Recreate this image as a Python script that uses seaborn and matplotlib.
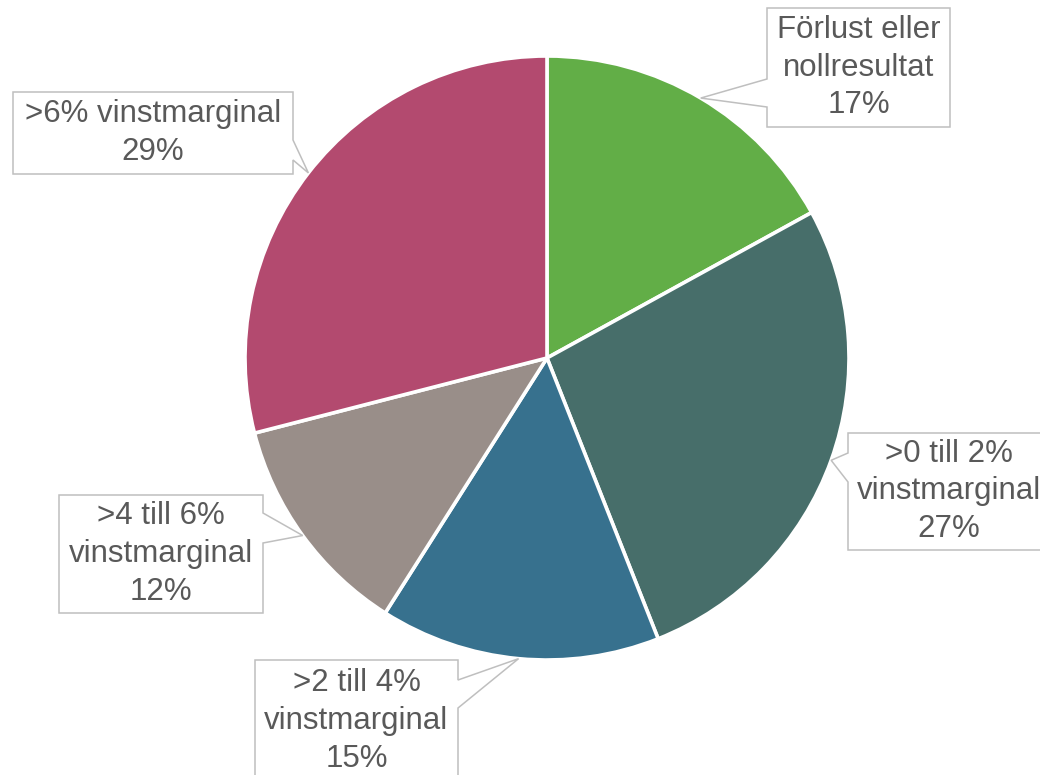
import numpy as np
import matplotlib
matplotlib.use("Agg")
import matplotlib.pyplot as plt
from matplotlib.patches import Polygon
import seaborn as sns

# ------------------------------------------------------------------------------
# DATA
# ------------------------------------------------------------------------------
categories = ["Förlust eller\nnollresultat", ">0 till 2%\nvinstmarginal",
              ">2 till 4%\nvinstmarginal", ">4 till 6%\nvinstmarginal",
              ">6% vinstmarginal"]
shares = [17, 27, 15, 12, 29]
colors = ["#62AE47", "#476E6A", "#37718E", "#998E89", "#B34A6F"]

# callout boxes in figure pixels (x0, y0, x1, y1), side of pointer, pointer base
callouts = [
    dict(box=(767, 8, 950, 127), side="left", base=(79, 107)),
    dict(box=(848, 433, 1050, 550), side="left", base=(453, 482)),
    dict(box=(255, 660, 458, 782), side="right", base=(680, 708)),
    dict(box=(59, 495, 263, 613), side="right", base=(513, 543)),
    dict(box=(13, 92, 293, 174), side="right", base=(140, 160)),
]

# ------------------------------------------------------------------------------
# STYLE
# ------------------------------------------------------------------------------
sns.set_theme(style="white")
plt.rcParams["font.family"] = ["Liberation Sans", "DejaVu Sans"]
W, H = 1040, 775
fig = plt.figure(figsize=(W / 100, H / 100), dpi=100)

# pie axes: center (547, 358), radius 302 px
cx, cy, r = 547, 358, 302
ax = fig.add_axes([(cx - r) / W, (H - cy - r) / H, 2 * r / W, 2 * r / H])
wedges, _ = ax.pie(shares, colors=sns.color_palette(colors), startangle=90,
                   counterclock=False, radius=1,
                   wedgeprops=dict(edgecolor="white", linewidth=2.6))
ax.set_xlim(-1, 1)
ax.set_ylim(-1, 1)
ax.set_aspect("equal")
ax.axis("off")

# overlay in pixel coordinates for the callouts
ov = fig.add_axes([0, 0, 1, 1], zorder=5)
ov.set_xlim(0, W)
ov.set_ylim(H, 0)
ov.axis("off")
ov.patch.set_alpha(0)

fig.canvas.draw()
for w, cat, val, co in zip(wedges, categories, shares, callouts):
    mid = np.deg2rad((w.theta1 + w.theta2) / 2)
    disp = ax.transData.transform((np.cos(mid), np.sin(mid)))
    tx, ty = ov.transData.inverted().transform(disp)
    x0, y0, x1, y1 = co["box"]
    b0, b1 = co["base"]
    if co["side"] == "left":
        pts = [(x0, y0), (x1, y0), (x1, y1), (x0, y1), (x0, b1), (tx, ty), (x0, b0)]
    else:
        pts = [(x0, y0), (x1, y0), (x1, b0), (tx, ty), (x1, b1), (x1, y1), (x0, y1)]
    ov.add_patch(Polygon(pts, closed=True, facecolor="white", edgecolor="#BFBFBF",
                         linewidth=1.1, clip_on=False))
    ov.text((x0 + x1) / 2, (y0 + y1) / 2, f"{cat}\n{val}%", ha="center",
            va="center", fontsize=22.5, color="#595959", linespacing=1.33,
            multialignment="center")

fig.savefig("out.png", dpi=100)
